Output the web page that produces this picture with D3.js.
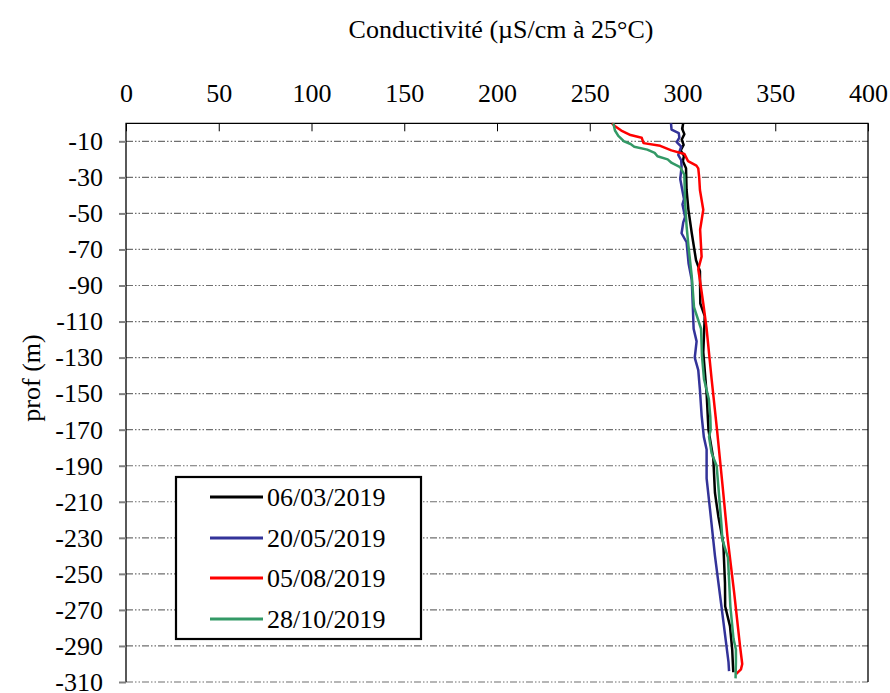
<!DOCTYPE html>
<html>
<head>
<meta charset="utf-8">
<script src="https://cdn.jsdelivr.net/npm/d3@7/dist/d3.min.js"></script>
<style>
  html, body { margin: 0; padding: 0; background: #fff; }
  svg text { font-family: "Liberation Serif", "Times New Roman", serif; fill: #000; }
</style>
</head>
<body>
<svg id="chart" width="890" height="693"></svg>
<script>
// Conductivity profiles (µS/cm at 25 °C) versus depth (m)
const xTicks = [0, 50, 100, 150, 200, 250, 300, 350, 400];
const yTicks = [-10, -30, -50, -70, -90, -110, -130, -150, -170, -190, -210, -230, -250, -270, -290, -310];

const seriesNames = ["06/03/2019", "20/05/2019", "05/08/2019", "28/10/2019"];
const seriesColors = ["#000000", "#333399", "#ff0000", "#339966"];

// 06/03/2019
const depth1 = [0, -3, -6, -9, -12, -15, -18, -21, -25, -37, -48, -61, -76, -82, -100, -107, -127, -150, -170, -186, -205, -218, -233, -255, -268, -279, -292, -301, -304.6];
const cond1  = [300.4, 299.8, 301, 299.6, 300.6, 299, 300.8, 300.2, 301.9, 302.2, 303.2, 305, 307.3, 309.4, 309.6, 312, 311.2, 313, 314, 316.6, 317.5, 319.3, 322, 322.9, 323, 325.6, 326.8, 327.2, 327.4];

// 20/05/2019
const depth2 = [0, -3.5, -5.5, -8, -10.5, -13, -17.5, -20.5, -24, -31, -42, -45, -52, -55, -61, -66, -78, -87, -100, -114, -121, -130, -137, -148, -162, -174, -181, -197, -214, -240, -268, -299, -304];
const cond2  = [293.8, 294.1, 298, 298.3, 296.9, 299.3, 297.7, 299.3, 299.5, 298.8, 300.8, 300, 301.4, 300.4, 299.5, 302.2, 303.3, 305, 305.5, 306, 307.6, 306.6, 308.5, 309.4, 310.3, 311.5, 313, 313, 314.8, 317.5, 321, 324.8, 325.1];

// 05/08/2019
const depth3 = [0, -1.5, -4, -6.5, -8, -11, -12.5, -15, -17, -21, -23.5, -25, -30, -37, -48, -59, -74, -81, -87, -100, -114, -142, -170, -200, -230, -260, -290, -300, -303, -305.5];
const cond3  = [262, 263.5, 267, 272, 278, 279, 288, 294, 301, 303, 307.5, 308.5, 309, 309.4, 311.2, 309.5, 310.3, 308.5, 309.4, 311.2, 313, 315.7, 318.6, 321.5, 324.3, 327.8, 331, 332.2, 331.5, 329];

// 28/10/2019
const depth4 = [0, -4, -7, -10, -11.5, -13, -14.6, -16.4, -18.3, -20, -22, -24.3, -28.5, -44, -57, -68, -85, -102, -114, -129, -142, -153, -163, -170, -174, -183, -190, -201, -223, -231, -236, -241, -268, -286, -292, -299, -308];
const cond4  = [262.7, 263.6, 265.4, 268.5, 272, 274, 281, 285, 286.5, 292, 294.2, 298.7, 301, 301.4, 302.2, 303.2, 305, 306.2, 310, 310.5, 311.6, 314.2, 315, 315.2, 314.3, 315.7, 318.4, 319.3, 321, 321.5, 323, 324.5, 325.8, 327.5, 328.8, 328.8, 328.6];

const depths = [depth1, depth2, depth3, depth4];
const conds = [cond1, cond2, cond3, cond4];

const svg = d3.select("#chart");
const plotLeft = 126, plotRight = 868, plotTop = 123.3, plotBottom = 682;

const x = d3.scaleLinear().domain([0, 400]).range([plotLeft, plotRight]);
const y = d3.scaleLinear().domain([0, -310]).range([plotTop, plotBottom]);

const FS = 26;

// Horizontal grid lines (dash-dot-dot)
svg.append("g")
  .selectAll("line")
  .data(yTicks)
  .join("line")
  .attr("x1", plotLeft).attr("x2", plotRight)
  .attr("y1", d => y(d)).attr("y2", d => y(d))
  .attr("stroke", "#6f6f6f")
  .attr("stroke-width", 1.2)
  .attr("stroke-dasharray", "7,2,1.5,2,1.5,2");

// Frame: top, left, right
svg.append("path")
  .attr("d", `M${plotLeft},${plotBottom} V${plotTop} H${plotRight} V${plotBottom}`)
  .attr("fill", "none")
  .attr("stroke", "#000")
  .attr("stroke-width", 1.3);

// X axis on top, ticks pointing inside
const xAxis = d3.axisTop(x).tickValues(xTicks).tickFormat(d => String(d))
  .tickSize(-8).tickPadding(22).tickSizeOuter(0);
const gx = svg.append("g").attr("transform", `translate(0,${plotTop})`).call(xAxis);
gx.select(".domain").remove();
gx.selectAll(".tick line").attr("stroke", "#000").attr("stroke-width", 1);
gx.selectAll(".tick text").attr("font-size", FS).attr("dy", 0)
  .attr("y", 102 - plotTop);

// Y axis on the left, plain hyphen for negative labels
const yAxis = d3.axisLeft(y).tickValues(yTicks).tickFormat(d => String(d))
  .tickSize(7).tickPadding(16).tickSizeOuter(0);
const gy = svg.append("g").attr("transform", `translate(${plotLeft},0)`).call(yAxis);
gy.select(".domain").remove();
gy.selectAll(".tick line").attr("stroke", "#7f7f7f").attr("stroke-width", 2);
gy.selectAll(".tick text").attr("font-size", FS).attr("dy", "0.32em");

// Axis titles
svg.append("text")
  .attr("x", 501).attr("y", 38)
  .attr("text-anchor", "middle")
  .attr("font-size", FS)
  .text("Conductivité (µS/cm à 25°C)");

svg.append("text")
  .attr("transform", `translate(40,378) rotate(-90)`)
  .attr("text-anchor", "middle")
  .attr("font-size", FS)
  .text("prof (m)");

// Profiles
const line = d3.line()
  .x(p => x(p[1]))
  .y(p => y(p[0]));

seriesNames.forEach((name, i) => {
  const pts = depths[i].map((d, j) => [d, conds[i][j]]);
  svg.append("path")
    .datum(pts)
    .attr("d", line)
    .attr("fill", "none")
    .attr("stroke", seriesColors[i])
    .attr("stroke-width", 2.5)
    .attr("stroke-linejoin", "round");
});

// Legend
const lg = svg.append("g");
lg.append("rect")
  .attr("x", 176).attr("y", 477)
  .attr("width", 245).attr("height", 162)
  .attr("fill", "#fff")
  .attr("stroke", "#000")
  .attr("stroke-width", 2.2);

const rowY = [497, 538, 578, 619];
seriesNames.forEach((name, i) => {
  lg.append("line")
    .attr("x1", 210).attr("x2", 263)
    .attr("y1", rowY[i]).attr("y2", rowY[i])
    .attr("stroke", seriesColors[i])
    .attr("stroke-width", 3);
  lg.append("text")
    .attr("x", 267).attr("y", rowY[i])
    .attr("dy", "0.33em")
    .attr("font-size", FS)
    .text(name);
});
</script>
</body>
</html>
